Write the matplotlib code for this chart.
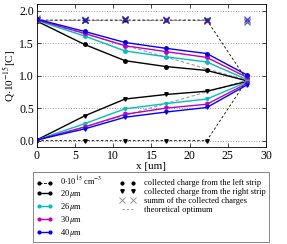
import matplotlib
matplotlib.use("Agg")
import matplotlib.pyplot as plt
from matplotlib.lines import Line2D
import numpy as np

plt.rcParams['font.family'] = ['Liberation Serif', 'DejaVu Serif']
plt.rcParams['mathtext.fontset'] = 'stix'

x = [0, 6.25, 11.55, 16.9, 22.25, 27.5]
labels = ["20$\\,\\mu$m", "26$\\,\\mu$m", "30$\\,\\mu$m", "40$\\,\\mu$m"]
colors = ["k", "c", "m", "b"]
left_strip = [
    [1.84, 1.48, 1.23, 1.14, 1.08, 0.92],
    [1.85, 1.61, 1.38, 1.29, 1.21, 0.94],
    [1.86, 1.65, 1.46, 1.37, 1.28, 0.975],
    [1.87, 1.68, 1.51, 1.42, 1.34, 1.01],
]
right_strip = [
    [0.01, 0.38, 0.64, 0.71, 0.76, 0.91],
    [0.01, 0.26, 0.49, 0.57, 0.64, 0.90],
    [0.01, 0.21, 0.405, 0.50, 0.56, 0.88],
    [0.01, 0.18, 0.36, 0.44, 0.51, 0.857],
]
zero_left = [1.855, 1.855, 1.855, 1.855, 1.855, 0.93]
zero_right = [0.0, 0.0, 0.0, 0.0, 0.0, 0.93]
optimum_x = [0, 27.5]
optimum_top = [1.855, 0.9275]
optimum_bottom = [0.0, 0.9275]

fig = plt.figure(figsize=(2.87, 2.44), dpi=100)
ax = fig.add_axes([0.128, 0.397, 0.799, 0.586])

# theoretical optimum
ax.plot(optimum_x, optimum_top, ls='--', color='0.6', lw=0.8, dashes=(3, 2))
ax.plot(optimum_x, optimum_bottom, ls='--', color='0.6', lw=0.8, dashes=(3, 2))
ax.plot([0, 22.25], [1.855, 1.855], ls='--', color='0.6', lw=0.8, dashes=(3, 2))

# zero doping
ax.plot(x, zero_left, ls='--', color='k', lw=0.6, dashes=(3, 2.5), marker='o', ms=2)
ax.plot(x, zero_right, ls='--', color='k', lw=0.6, dashes=(3, 2.5), marker='v', ms=2.5)
zsum = np.array(zero_left) + np.array(zero_right)
ax.plot(x[:-1], zsum[:-1], ls='none', color='k', marker='x', ms=4, mew=0.8)

for lft, rgt, c in zip(left_strip, right_strip, colors):
    ax.plot(x, lft, color=c, lw=1.0, marker='o', ms=2.5)
    ax.plot(x, rgt, color=c, lw=1.0, marker='v', ms=2.5)
    s = np.array(lft) + np.array(rgt)
    ax.plot(x, s, ls='none', color=c, marker='x', ms=4, mew=0.8, alpha=0.6)

ax.set_xlim(0, 30)
ax.set_ylim(-0.1, 2.1)
ax.set_xticks([0, 5, 10, 15, 20, 25, 30])
ax.set_yticks([0.0, 0.5, 1.0, 1.5, 2.0])
ax.set_yticklabels(["0.0", "0.5", "1.0", "1.5", "2.0"])
ax.tick_params(direction='in', top=True, right=True, labelsize=8.5, length=3, width=0.5, pad=2)
ax.yaxis.grid(True, ls=':', color='0.6', lw=0.7)
for s in ax.spines.values():
    s.set_linewidth(0.6)
ax.set_xlabel("x [um]", fontsize=8, labelpad=0)
ax.set_ylabel("Q$\\cdot$10$^{-15}$[C]", fontsize=8, labelpad=1)

handles = [
    Line2D([], [], color='k', ls='--', lw=0.6, marker='o', ms=2),
]
for c in colors:
    handles.append(Line2D([], [], color=c, lw=1.0, marker='o', ms=2))
handles += [
    Line2D([], [], color='k', ls='none', marker='o', ms=2),
    Line2D([], [], color='k', ls='none', marker='v', ms=2.5),
    Line2D([], [], color='0.5', ls='none', marker='x', ms=4, mew=0.6),
    Line2D([], [], color='0.6', ls='--', lw=0.8, dashes=(2, 2)),
]
leg_labels = ["0$\\cdot$10$^{15}$ cm$^{-3}$"] + labels + [
    "collected charge from the left strip",
    "collected charge from the right strip",
    "summ of the collected charges",
    "theoretical optimum",
]
leg = fig.legend(handles, leg_labels, ncol=2, loc='upper left',
                 bbox_to_anchor=(33 / 287, 1 - 172 / 244),
                 fontsize=6, numpoints=2, handlelength=1.9, handletextpad=1.0,
                 labelspacing=0.1, columnspacing=2.0, borderpad=0.4,
                 frameon=True, fancybox=False, edgecolor='0.3', borderaxespad=0)
leg.get_frame().set_linewidth(0.6)

fig.savefig("out.png", dpi=100)
